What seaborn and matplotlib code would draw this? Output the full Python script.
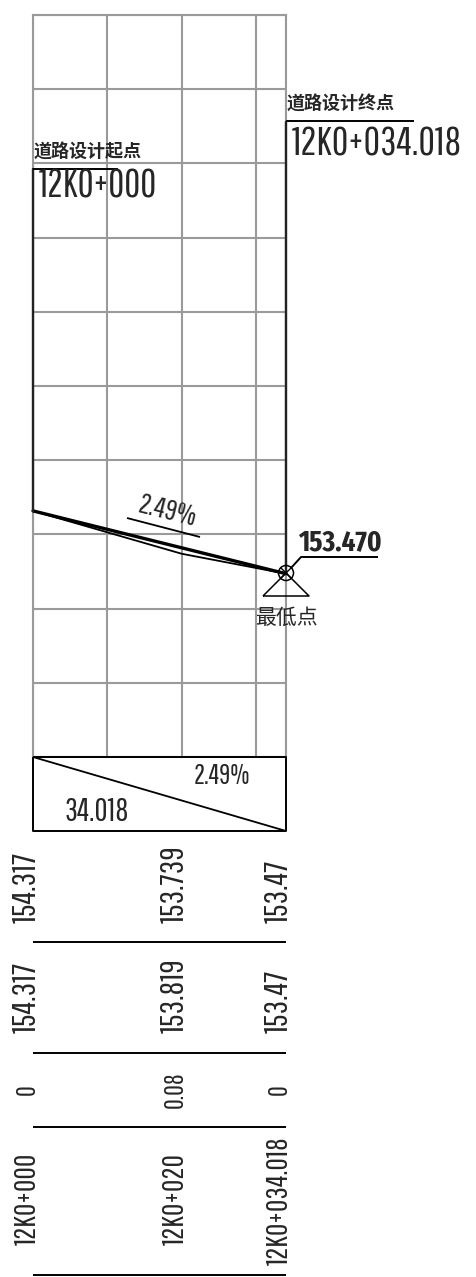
import numpy as np
import pandas as pd
import matplotlib
matplotlib.use("Agg")
import matplotlib.pyplot as plt
import seaborn as sns

# road profile values
stations = [0, 20, 34.018]
station_labels = ["12K0+000", "12K0+020", "12K0+034.018"]
ground_elev = [154.317, 153.739, 153.47]
design_elev = [154.317, 153.819, 153.47]
ground_labels = ["154.317", "153.739", "153.47"]
design_labels = ["154.317", "153.819", "153.47"]
fill_labels = ["0", "0.08", "0"]
grid_x = [0, 10, 20, 30, 34.018]
grid_y = [151, 152, 153, 154, 155, 156, 157, 158, 159, 160, 161]
slope_label = "2.49%"
length_label = "34.018"
low_label = "153.470"

W, H = 477, 1277
GRID = "#9a9a9a"
CAD = ["Pathway Gothic One", "Fira Sans Extra Condensed", "Barlow Condensed", "Liberation Sans"]
CAD_BOLD = ["Fira Sans Extra Condensed", "Barlow Condensed", "Liberation Sans"]
CJK = ["Noto Sans CJK SC", "DejaVu Sans"]

sns.set_style("white")
plt.rcParams["font.family"] = CAD

fig = plt.figure(figsize=(W / 100, H / 100), dpi=100)

# overlay in pixel coords, for the labels and table
over = fig.add_axes([0, 0, 1, 1], zorder=3)
over.set_xlim(0, W)
over.set_ylim(H, 0)
over.axis("off")

# profile panel
ax = fig.add_axes([33 / W, 1 - 757 / H, 253 / W, 742 / H], zorder=2)
ax.patch.set_alpha(0)
ax.set_xlim(0, 34.018)
ax.set_ylim(151, 161)
ax.set_xticks(grid_x)
ax.set_yticks(grid_y)
ax.tick_params(left=False, bottom=False, labelleft=False, labelbottom=False)
ax.grid(True, color=GRID, lw=1.5)
for s in ax.spines.values():
    s.set_color(GRID)
    s.set_linewidth(1.5)

df = pd.DataFrame({"station": stations, "ground": ground_elev, "design": design_elev})
sns.lineplot(data=df, x="station", y="ground", ax=ax, color="black", lw=1.3, clip_on=False, zorder=4)
sns.lineplot(data=df, x="station", y="design", ax=ax, color="black", lw=2.4, clip_on=False, zorder=4)
ax.set_xlabel("")
ax.set_ylabel("")

# black edges of the profile
ax.plot([0, 0], [design_elev[0], 158.92], color="#222222", lw=1.7, clip_on=False, zorder=4)
ax.plot([34.018, 34.018], [design_elev[-1], 159.56], color="#222222", lw=1.7, clip_on=False, zorder=4)


def seg(xs, ys, lw=1.2):
    over.plot(xs, ys, color="black", lw=lw, solid_capstyle="butt")


# start and end callouts
seg([33, 118], [169, 169], 1.4)
seg([286, 414], [121, 121], 1.4)
over.text(34, 162, "道路设计起点", family=CJK, fontsize=13, fontweight="bold", va="bottom", ha="left")
over.text(287, 114, "道路设计终点", family=CJK, fontsize=13, fontweight="bold", va="bottom", ha="left")
over.text(39, 187, station_labels[0], fontsize=28, va="center", ha="left")
over.text(292, 144, station_labels[2], fontsize=29, va="center", ha="left")

# slope mark
seg([127, 200], [518, 537], 1.3)
over.text(167, 511, slope_label, fontsize=21, rotation=-14, rotation_mode="anchor", va="center", ha="center")

# lowest point symbol
over.add_patch(plt.Circle((286, 573), 7.5, fill=False, ec="black", lw=1.1))
seg([263, 286, 309, 263], [596, 573, 596, 596], 1.1)
seg([280.5, 291.5], [567.5, 578.5], 1)
seg([280.5, 291.5], [578.5, 567.5], 1)
seg([291, 301, 378], [568, 557, 557], 1.4)
over.text(339.5, 557, low_label, family=CAD_BOLD, fontsize=21, fontweight="bold", va="bottom", ha="center")
over.text(286, 618, "最低点", family=CJK, fontsize=15, va="center", ha="center")

# slope/length box
seg([33, 286, 286, 33, 33], [757, 757, 831, 831, 757], 1.4)
seg([33, 286], [757, 831], 1.3)
over.text(222, 776, slope_label, fontsize=20, va="center", ha="center")
over.text(97, 812, length_label, fontsize=23, va="center", ha="center")

# table rows
for y in [941.5, 1053, 1127, 1275]:
    seg([33, 286], [y, y], 1.4)

col_x = [27, 175, 279]
for cx, a, b, c, d in zip(col_x, ground_labels, design_labels, fill_labels, station_labels):
    over.text(cx, 923, a, fontsize=24, rotation=90, va="bottom", ha="center")
    over.text(cx, 1033, b, fontsize=24, rotation=90, va="bottom", ha="center")
    over.text(cx, 1090, c, fontsize=19, rotation=90, va="center", ha="center")
    over.text(cx, 1265 if d == station_labels[2] else 1245, d, fontsize=22, rotation=90, va="bottom", ha="center")

fig.savefig("out.png", dpi=100, facecolor="white")
